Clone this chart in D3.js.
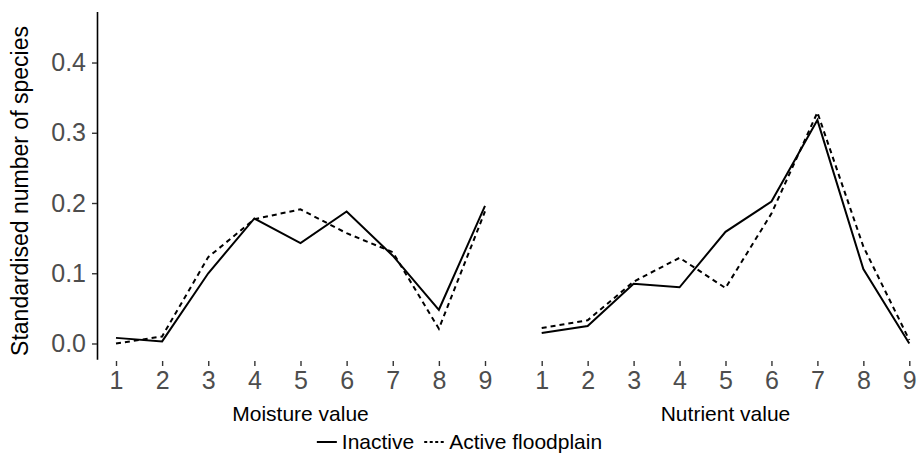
<!DOCTYPE html>
<html>
<head>
<meta charset="utf-8">
<script src="https://cdn.jsdelivr.net/npm/d3@7"></script>
<style>
  body { margin: 0; background: #fff; }
  text { font-family: "Liberation Sans", Arial, sans-serif; }
</style>
</head>
<body>
<div id="my_dataviz"></div>
<script>
// data
var categories = [1, 2, 3, 4, 5, 6, 7, 8, 9];
var yTicks = [0, 0.1, 0.2, 0.3, 0.4];
var moistureInactive = [0.008, 0.003, 0.100, 0.178, 0.143, 0.188, 0.125, 0.048, 0.196];
var moistureActive   = [0.000, 0.010, 0.123, 0.177, 0.191, 0.157, 0.130, 0.021, 0.188];
var nutrientInactive = [0.015, 0.025, 0.085, 0.080, 0.159, 0.202, 0.318, 0.106, 0.000];
var nutrientActive   = [0.022, 0.033, 0.088, 0.122, 0.079, 0.185, 0.329, 0.138, 0.005];
var seriesNames = ["Inactive", "Active floodplain"];

var width = 919, height = 464;

var svg = d3.select("#my_dataviz")
  .append("svg")
  .attr("width", width)
  .attr("height", height);

// Y scale shared by both panels
var y = d3.scaleLinear()
  .domain([-0.0225, 0.4725])
  .range([359.3, 11.6]);

var yAxis = svg.append("g")
  .attr("transform", "translate(97,0)")
  .call(d3.axisLeft(y).tickValues(yTicks).tickFormat(d3.format(".1f")).tickSize(5).tickSizeOuter(0));
yAxis.select(".domain").attr("stroke", "#000").attr("stroke-width", 1.6);
yAxis.selectAll(".tick line").attr("stroke", "#333").attr("stroke-width", 1.4);
yAxis.selectAll(".tick text")
  .attr("x", -11)
  .attr("fill", "#4d4d4d")
  .style("font-size", "25px");

svg.append("text")
  .attr("transform", "translate(28,191)rotate(-90)")
  .attr("text-anchor", "middle")
  .attr("fill", "#000")
  .style("font-size", "23px")
  .text("Standardised number of species");

// panels
var panels = [
  {x0: 116, x1: 485, title: "Moisture value", inactive: moistureInactive, active: moistureActive},
  {x0: 541.7, x1: 909.3, title: "Nutrient value", inactive: nutrientInactive, active: nutrientActive}
];

panels.forEach(function(p) {
  var x = d3.scaleLinear().domain([1, 9]).range([p.x0, p.x1]);

  var xAxis = svg.append("g")
    .attr("transform", "translate(0,361)")
    .call(d3.axisBottom(x).tickValues(categories).tickFormat(d3.format("d")).tickSize(5).tickSizeOuter(0));
  xAxis.select(".domain").remove();
  xAxis.selectAll(".tick line").attr("stroke", "#333").attr("stroke-width", 1.4);
  xAxis.selectAll(".tick text")
    .attr("y", 10)
    .attr("fill", "#4d4d4d")
    .style("font-size", "25px");

  svg.append("text")
    .attr("x", x(5))
    .attr("y", 421)
    .attr("text-anchor", "middle")
    .attr("fill", "#000")
    .style("font-size", "21px")
    .text(p.title);

  var line = d3.line()
    .x(function(d, i) { return x(categories[i]); })
    .y(function(d) { return y(d); });

  svg.append("path")
    .datum(p.inactive)
    .attr("d", line)
    .attr("fill", "none")
    .attr("stroke", "#000")
    .attr("stroke-width", 2);

  svg.append("path")
    .datum(p.active)
    .attr("d", line)
    .attr("fill", "none")
    .attr("stroke", "#000")
    .attr("stroke-width", 2)
    .attr("stroke-dasharray", "5,4");
});

// legend, laid out from measured text widths and centred on the page
var legend = svg.append("g").attr("transform", "translate(0,442)");
var keyW = 20, keyGap = 5, itemGap = 10;
var items = [];
seriesNames.forEach(function(name, i) {
  var g = legend.append("g");
  g.append("line")
    .attr("x1", 0).attr("x2", keyW).attr("y1", 0).attr("y2", 0)
    .attr("stroke", "#000").attr("stroke-width", 2)
    .attr("stroke-dasharray", i == 0 ? null : "3,2.5");
  var t = g.append("text")
    .attr("x", keyW + keyGap).attr("y", 7)
    .style("font-size", "21px")
    .text(name);
  items.push({g: g, w: keyW + keyGap + t.node().getComputedTextLength()});
});
var total = d3.sum(items, function(d) { return d.w; }) + itemGap * (items.length - 1);
var cx = width / 2 - total / 2;
items.forEach(function(d) {
  d.g.attr("transform", "translate(" + cx + ",0)");
  cx += d.w + itemGap;
});
</script>
</body>
</html>
